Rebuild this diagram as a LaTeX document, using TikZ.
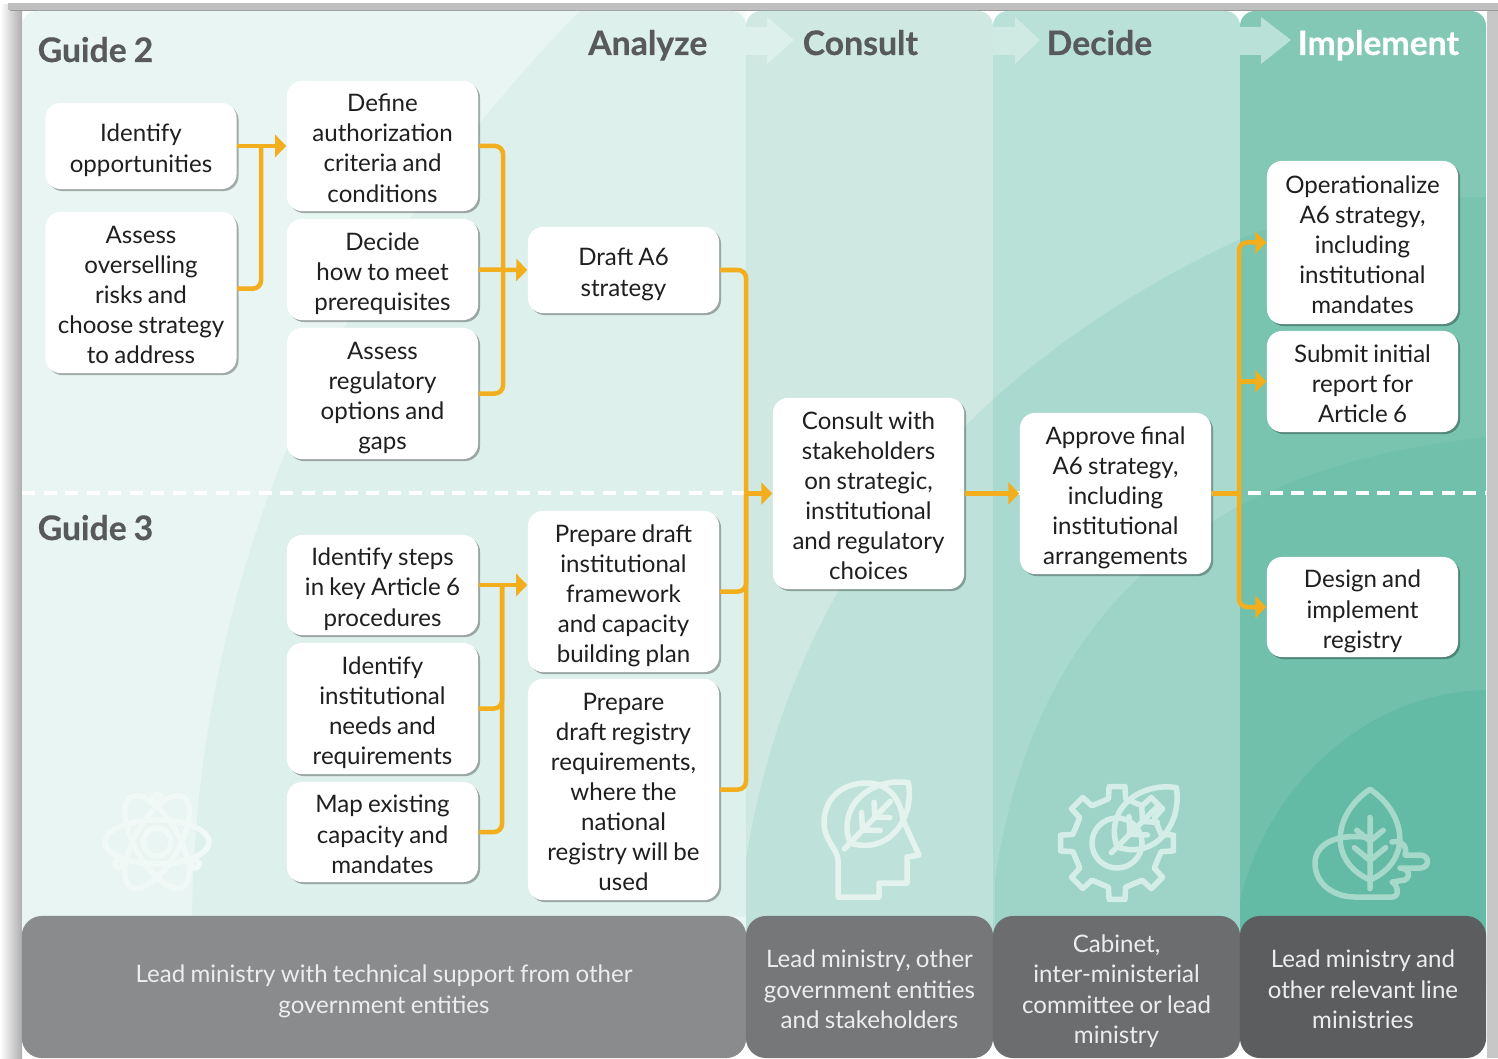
\documentclass[tikz,border=0pt]{standalone}
\usepackage{fontspec}
\setmainfont{Lato}[WordSpace=.85]
\usetikzlibrary{positioning,calc,arrows.meta,shadows}
\definecolor{flowcol}{HTML}{F2AE1C}
\definecolor{analyzecol}{HTML}{E8F5F2}
\definecolor{consultcol}{HTML}{CFE9E2}
\definecolor{decidecol}{HTML}{B9E1D7}
\definecolor{implementcol}{HTML}{82C8B4}
\definecolor{swooshcol}{HTML}{2EA58A}
\definecolor{titlecol}{HTML}{58595B}
\definecolor{leadone}{HTML}{8A8B8C}
\definecolor{leadtwo}{HTML}{767779}
\definecolor{leadthree}{HTML}{6C6D6F}
\definecolor{leadfour}{HTML}{5C5D5F}
\tikzset{
  x=0.01cm,y=-0.01cm,
  textlines/.style={execute at begin node={\rule{0pt}{#1\dimexpr .30cm\relax}},execute at end node={\rule[-.08cm]{0pt}{.08cm}}},
  stepbox/.style={draw=none,fill=white,rounded corners=.15cm,align=center,inner sep=0pt,minimum width=1.91cm,
    font=\fontsize{6.85}{8.54}\selectfont,text=black!88,
    drop shadow={shadow xshift=.02cm,shadow yshift=-.02cm,opacity=.3,fill=black}},
  leadbox/.style={rounded corners=.2cm,align=center,inner sep=0pt,minimum height=1.42cm,
    font=\fontsize{6.85}{8.54}\selectfont,text=white!93!black},
  phasetitle/.style={font=\fontsize{9.6}{11}\selectfont\bfseries\addfontfeature{FakeBold=.4},text=titlecol,inner sep=0pt},
  flowline/.style={line width=.045cm,draw=flowcol,rounded corners=.08cm},
  flowarrow/.style={flowline,-{Triangle[length=.11cm,width=.22cm]}},
  iconline/.style={line width=.055cm,line cap=round,line join=round},
  leaficon/.pic={
    \draw[pic actions] (0,0) .. controls (-36,-18) and (-30,-62) .. (0,-84) .. controls (30,-62) and (36,-18) .. (0,0);
    \draw[pic actions] (0,8) -- (0,-58) (0,-18) -- (-13,-30) (0,-18) -- (13,-30) (0,-36) -- (-11,-46) (0,-36) -- (11,-46);
  }
}
\begin{document}
\begin{tikzpicture}
  \useasboundingbox (0,0) rectangle (1498,1058);
  \shade[left color=white,right color=black!32] (0,5) rectangle (22,1058);
  \fill[black!25] (8,3) rectangle (1498,10);
  \fill[black!40] (10,10) rectangle (1498,11);
  \fill[black!22] (1487,11) rectangle (1498,1058);

  \fill[analyzecol,rounded corners=.15cm] (22,11) rectangle (746,1000);
  \fill[consultcol,rounded corners=.15cm] (746,11) rectangle (993,1000);
  \fill[decidecol,rounded corners=.15cm] (993,11) rectangle (1240,1000);
  \fill[implementcol,rounded corners=.15cm] (1240,11) rectangle (1486,1000);

  \begin{scope}
    \clip (22,11) rectangle (1486,1000);
    \fill[swooshcol,opacity=.05] (192,916) .. controls (195,680) and (265,330) .. (580,11) -- (746,11) -- (746,916) -- cycle;
    \fill[swooshcol,opacity=.10] (746,860) .. controls (790,580) and (960,370) .. (1238,240) .. controls (1320,205) and (1420,197) .. (1486,197) -- (1486,1000) -- (746,1000) -- cycle;
    \fill[swooshcol,opacity=.10] (995,880) .. controls (1030,640) and (1170,470) .. (1486,437) -- (1486,1000) -- (995,1000) -- cycle;
    \fill[swooshcol,opacity=.18] (1240,900) .. controls (1270,780) and (1370,692) .. (1486,690) -- (1486,1000) -- (1240,1000) -- cycle;
  \end{scope}

  \draw[white,line width=.04cm,dash pattern=on .13cm off .085cm] (22,493) -- (1486,493);

  \fill[consultcol!70!white] (746,27) -- (767,27) -- (767,17) -- (794,40) -- (767,64) -- (767,55) -- (746,55) -- cycle;
  \fill[decidecol!70!white] (993,27) -- (1015,27) -- (1015,17) -- (1040,40) -- (1015,64) -- (1015,55) -- (993,55) -- cycle;
  \fill[decidecol] (1240,27) -- (1261,27) -- (1261,17) -- (1291,40) -- (1261,64) -- (1261,55) -- (1240,55) -- cycle;

  \begin{scope}[iconline,draw=analyzecol!60!white]
    \draw (157,842) ellipse (52 and 22);
    \draw[rotate around={60:(157,842)}] (157,842) ellipse (52 and 22);
    \draw[rotate around={120:(157,842)}] (157,842) ellipse (52 and 22);
    \draw (157,842) circle (14);
    \foreach \a in {30,150,270} {
      \draw ($(157,842)+(\a:44)$) circle (4);
    }
  \end{scope}
  \begin{scope}[iconline,draw=consultcol!55!white]
    \draw (838,897) -- (879,897) -- (879,883) -- (907,883) -- (907,857) -- (919,855) -- (903,820) .. controls (900,795) and (885,783) .. (867,783) .. controls (840,783) and (824,800) .. (824,823) .. controls (824,840) and (838,850) .. (838,860) -- cycle;
    \pic[rotate=-44] at (850,843) {leaficon};
  \end{scope}
  \begin{scope}[iconline,draw=decidecol!60!white]
    \foreach \a in {0,45,...,315} {
      \draw ($(1117,843)+(\a-22.5:44)$) -- ($(1117,843)+(\a-11:45)$) -- ($(1117,843)+(\a-8:57)$) -- ($(1117,843)+(\a+8:57)$) -- ($(1117,843)+(\a+11:45)$) -- ($(1117,843)+(\a+22.5:44)$);
    }
    \draw (1117,843) circle (25);
    \pic[rotate=-45] at (1117,847) {leaficon};
  \end{scope}
  \begin{scope}[iconline,draw=implementcol!70!white]
    \pic[xscale=1.2,yscale=1.08] at (1370,880) {leaficon};
    \draw (1372,838) .. controls (1335,832) and (1315,845) .. (1315,863) .. controls (1315,885) and (1335,897) .. (1355,897) -- (1392,897) .. controls (1400,897) and (1398,885) .. (1392,882) -- (1405,880) .. controls (1412,875) and (1408,868) .. (1400,868) -- (1420,868) .. controls (1430,868) and (1430,855) .. (1420,855) -- (1405,855) .. controls (1408,845) and (1400,840) .. (1392,842);
  \end{scope}

  \node (guidetwo) [phasetitle,anchor=base west] at (37,62) {Guide 2};
  \node (guidethree) [phasetitle,anchor=base west] at (37,540) {Guide 3};
  \node (analyze) [phasetitle,anchor=base east] at (708,55) {Analyze};
  \node (consult) [phasetitle,anchor=base west] at (802,55) {Consult};
  \node (decide) [phasetitle,anchor=base west] at (1046,55) {Decide};
  \node (implement) [phasetitle,anchor=base west,text=white] at (1297,55) {Implement};

  \node (leadanalyze) [leadbox,textlines=2,fill=leadone,minimum width=7.24cm] at (384,987) {Lead ministry with technical support from other\\government entities};
  \node (leadconsult) [leadbox,textlines=3,fill=leadtwo,minimum width=2.47cm] at (869.5,987) {Lead ministry, other\\government entities\\and stakeholders};
  \node (leaddecide) [leadbox,textlines=4,fill=leadthree,minimum width=2.47cm] at (1116.5,987) {Cabinet,\\inter-ministerial\\committee or lead\\ministry};
  \node (leadimplement) [leadbox,textlines=3,fill=leadfour,minimum width=2.46cm] at (1363,987) {Lead ministry and\\other relevant line\\ministries};

  \node (opportunities) [stepbox,textlines=2,minimum height=.86cm] at (141,146) {Identify\\opportunities};
  \node (overselling) [stepbox,textlines=5,minimum height=1.61cm] at (141,292.5) {Assess\\overselling\\risks and\\choose strategy\\to address};
  \node (criteria) [stepbox,textlines=4,minimum height=1.30cm] at (382.5,146) {Define\\authorization\\criteria and\\conditions};
  \node (prereq) [stepbox,textlines=3,minimum height=1.01cm] at (382.5,269.5) {Decide\\how to meet\\prerequisites};
  \node (regoptions) [stepbox,textlines=4,minimum height=1.31cm] at (382.5,393.5) {Assess\\regulatory\\options and\\gaps};
  \node (draft) [stepbox,textlines=2,minimum height=.86cm] at (623.5,270) {Draft A6\\strategy};
  \node (steps) [stepbox,textlines=3,minimum height=1.00cm] at (382.5,585) {Identify steps\\in key Article 6\\procedures};
  \node (needs) [stepbox,textlines=4,minimum height=1.31cm] at (382.5,708.5) {Identify\\institutional\\needs and\\requirements};
  \node (capacity) [stepbox,textlines=3,minimum height=1.00cm] at (382.5,832) {Map existing\\capacity and\\mandates};
  \node (framework) [stepbox,textlines=5,minimum height=1.61cm] at (623.5,591.5) {Prepare draft\\institutional\\framework\\and capacity\\building plan};
  \node (registryreq) [stepbox,textlines=7,minimum height=2.21cm] at (623.5,789.5) {Prepare\\draft registry\\requirements,\\where the\\national\\registry will be\\used};
  \node (stakeholders) [stepbox,textlines=6,minimum height=1.91cm] at (868.5,493.5) {Consult with\\stakeholders\\on strategic,\\institutional\\and regulatory\\choices};
  \node (approve) [stepbox,textlines=5,minimum height=1.61cm] at (1115.5,493.5) {Approve final\\A6 strategy,\\including\\institutional\\arrangements};
  \node (operate) [stepbox,textlines=5,minimum height=1.63cm] at (1362.5,242.5) {Operationalize\\A6 strategy,\\including\\institutional\\mandates};
  \node (report) [stepbox,textlines=3,minimum height=1.01cm] at (1362.5,381.5) {Submit initial\\report for\\Article 6};
  \node (registry) [stepbox,textlines=3,minimum height=1.00cm] at (1362.5,607) {Design and\\implement\\registry};

  \coordinate (joinone) at (261,146);
  \coordinate (jointwo) at (503,269.5);
  \coordinate (jointhree) at (746,493.5);
  \coordinate (joinfour) at (502,585);
  \coordinate (joinfive) at (1239,493.5);

  \draw[flowarrow] (opportunities.east) -- (criteria.west);
  \draw[flowline] ([yshift=1.1pt]overselling.east) -| (joinone);
  \draw[flowline] (criteria.east) -| (jointwo);
  \draw[flowline] (regoptions.east) -| (jointwo);
  \draw[flowarrow] (prereq.east) -- (draft.west);
  \draw[flowline] (draft.east) -| (jointhree);
  \draw[flowarrow] (steps.east) -- (steps.east -| framework.west);
  \draw[flowline] (needs.east) -| (joinfour);
  \draw[flowline] (capacity.east) -| (joinfour);
  \draw[flowline] (framework.east) -| (jointhree);
  \draw[flowline] (registryreq.east) -| (jointhree);
  \draw[flowarrow] (jointhree) -- (stakeholders.west);
  \draw[flowarrow] (stakeholders.east) -- (approve.west);
  \draw[flowline] (approve.east) -- (joinfive);
  \draw[flowarrow] (joinfive) |- (operate.west);
  \draw[flowarrow] (joinfive |- report.west) -- (report.west);
  \draw[flowline] (joinfive) -- (joinfive |- report.west);
  \draw[flowarrow] (joinfive) |- (registry.west);
\end{tikzpicture}
\end{document}
